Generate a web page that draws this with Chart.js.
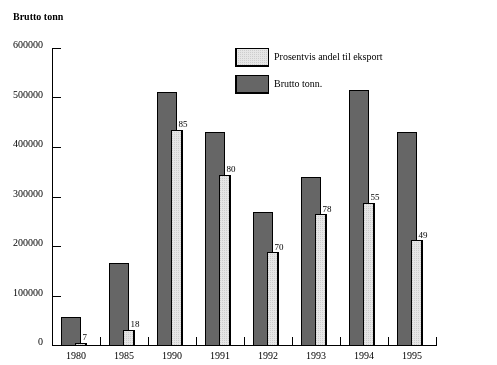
<!DOCTYPE html>
<html>
<head>
<meta charset="utf-8">
<script src="https://cdn.jsdelivr.net/npm/chart.js@4"></script>
<style>
  html, body { margin: 0; padding: 0; background: #ffffff; }
  canvas { display: block; }
</style>
</head>
<body>
<canvas id="c" width="497" height="365"></canvas>
<script>
// ---- data ----
const years = ['1980', '1985', '1990', '1991', '1992', '1993', '1994', '1995'];
const bruttoTonn = [55000, 164000, 510000, 429000, 267000, 338000, 514000, 429000];
const eksportTonn = [3800, 30000, 434000, 343000, 186000, 263000, 286000, 211000];
const eksportProsent = [7, 18, 85, 80, 70, 78, 55, 49];
const yTickLabels = ['0', '100000', '200000', '300000', '400000', '500000', '600000'];
const titleText = 'Brutto tonn';
const legendLabels = ['Prosentvis andel til eksport', 'Brutto tonn.'];

const SERIF = '"Liberation Serif", "DejaVu Serif", serif';
const DARK = '#666666';

const canvas = document.getElementById('c');
const ctx = canvas.getContext('2d');

// dotted light-grey fill like the reference
const pc = document.createElement('canvas');
pc.width = 2; pc.height = 2;
const pctx = pc.getContext('2d');
pctx.fillStyle = '#e6e6e6'; pctx.fillRect(0, 0, 2, 2);
pctx.fillStyle = '#cdcdcd'; pctx.fillRect(0, 0, 1, 1);
const lightPattern = ctx.createPattern(pc, 'repeat');

// crisp black outline around a bar element (bottom edge skipped)
function outline(c, el, rightW) {
  const L = Math.round(el.x - el.width / 2);
  const R = Math.round(el.x + el.width / 2);
  const T = Math.floor(el.y);
  const B = Math.round(el.base);
  c.fillStyle = '#000';
  c.fillRect(L, T, 1, B - T);
  c.fillRect(L, T, R - L, 1);
  c.fillRect(R - rightW, T, rightW, B - T);
}

const decorations = {
  id: 'decorations',
  afterDatasetsDraw(chart) {
    const c = chart.ctx;
    c.save();
    chart.getDatasetMeta(0).data.forEach(el => outline(c, el, 1));
    // light bars drawn in front of the dark ones
    chart.getDatasetMeta(1).data.forEach(el => { el.draw(c); outline(c, el, 2); });
    c.restore();
  },
  afterDraw(chart) {
    const c = chart.ctx;
    const xs = chart.scales.x, ys = chart.scales.y;
    const area = chart.chartArea;
    c.save();
    c.fillStyle = '#000';
    const ax = Math.round(area.left);
    const ay = Math.round(area.bottom);
    // axis lines
    c.fillRect(ax, Math.round(area.top), 1, ay - Math.round(area.top) + 1);
    c.fillRect(ax, ay, Math.round(area.right) - ax + 1, 1);
    // y tick marks pointing inward
    ys.ticks.forEach(t => {
      if (t.value === 0) return;
      const y = Math.round(ys.getPixelForValue(t.value));
      c.fillRect(ax, y, 9, 1);
    });
    // x tick marks (category boundaries) pointing upward
    for (let k = 1; k <= years.length; k++) {
      const x = Math.round(xs.getPixelForValue(k - 0.5));
      c.fillRect(x, ay - 8, 1, 8);
    }
    // value labels above light bars
    c.font = '9px ' + SERIF;
    c.textAlign = 'left';
    c.textBaseline = 'alphabetic';
    chart.getDatasetMeta(1).data.forEach((el, i) => {
      c.fillText(String(eksportProsent[i]), el.x + 1.5, el.y - 3);
    });
    // title
    c.font = 'bold 10px ' + SERIF;
    c.fillText(titleText, 13, 19.5);
    // legend
    const boxes = [
      { y: 48, fill: lightPattern, label: legendLabels[0] },
      { y: 75, fill: DARK, label: legendLabels[1] }
    ];
    c.font = '10px ' + SERIF;
    c.textBaseline = 'middle';
    boxes.forEach(b => {
      c.fillStyle = b.fill;
      c.fillRect(235, b.y, 34, 19);
      c.fillStyle = '#000';
      c.fillRect(235, b.y, 34, 1);
      c.fillRect(268, b.y, 1, 19);
      c.fillRect(235, b.y, 2, 19);
      c.fillRect(235, b.y + 17, 34, 2);
      c.fillText(b.label, 274, b.y + 9.5);
    });
    c.restore();
  }
};

new Chart(canvas, {
  type: 'bar',
  data: {
    labels: years,
    datasets: [
      {
        label: legendLabels[1],
        data: bruttoTonn,
        backgroundColor: DARK,
        borderWidth: 0,
        categoryPercentage: 20 / 48,
        barPercentage: 2.0
      },
      {
        label: legendLabels[0],
        data: eksportTonn,
        backgroundColor: lightPattern,
        borderWidth: 0,
        categoryPercentage: 20 / 48,
        barPercentage: 1.2
      }
    ]
  },
  options: {
    responsive: false,
    animation: false,
    events: [],
    layout: { padding: { top: 48, right: 61, left: 0, bottom: 0 } },
    plugins: { legend: { display: false }, tooltip: { enabled: false }, title: { display: false } },
    scales: {
      x: {
        type: 'category',
        offset: true,
        grid: { display: false, drawTicks: false },
        border: { display: false },
        ticks: { color: '#000', font: { family: SERIF, size: 10 }, padding: 5, maxRotation: 0, autoSkip: false },
        afterFit(scale) { scale.height = 20; }
      },
      y: {
        min: 0,
        max: 600000,
        grid: { display: false, drawTicks: false },
        border: { display: false },
        ticks: {
          stepSize: 100000,
          color: '#000',
          padding: 9,
          labelOffset: -2.5,
          font: { family: SERIF, size: 10 },
          callback: (v, i) => yTickLabels[i]
        },
        afterFit(scale) { scale.width = 52; }
      }
    }
  },
  plugins: [decorations]
});
</script>
</body>
</html>
